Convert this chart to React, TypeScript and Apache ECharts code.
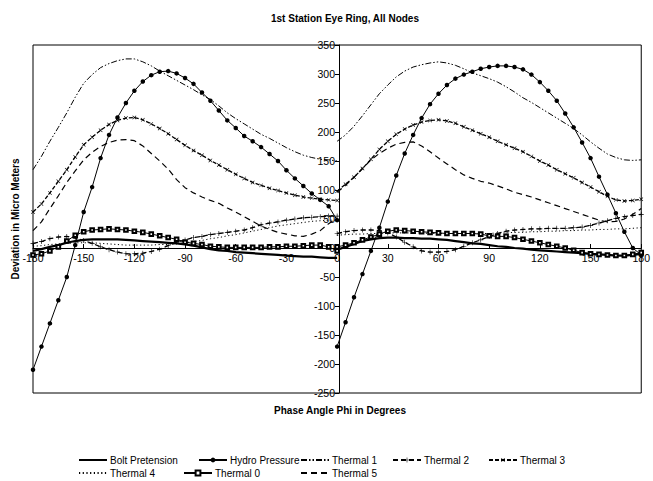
import React, { useEffect, useRef } from "react";
import * as echarts from "echarts";

const ANGLES_L = [-180,-175,-170,-165,-160,-155,-150,-145,-140,-135,-130,-125,-120,-115,-110,-105,-100,-95,-90,-85,-80,-75,-70,-65,-60,-55,-50,-45,-40,-35,-30,-25,-20,-15,-10,-5,0];
const ANGLES_R = [0,5,10,15,20,25,30,35,40,45,50,55,60,65,70,75,80,85,90,95,100,105,110,115,120,125,130,135,140,145,150,155,160,165,170,175,180];

const X_TICKS = [-180, -150, -120, -90, -60, -30, 0, 30, 60, 90, 120, 150, 180];
const Y_TICKS = [-250, -200, -150, -100, -50, 0, 50, 100, 150, 200, 250, 300, 350];

const BOLT_L = [-5,-2,2,5,9,12,14,15,15,15,15,14,13,12,11,10,9,8,6,4,1,-2,-4,-5,-7,-8,-9,-10,-11,-12,-13,-14,-15,-15,-16,-17,-17];
const BOLT_R = [-3,2,7,12,15,17,18,18,17,17,16,16,15,14,12,10,8,7,5,3,2,0,-1,-3,-4,-5,-6,-7,-8,-9,-10,-11,-12,-13,-13,-12,-10];

const HYDRO_L = [-210,-170,-130,-90,-50,5,62,105,155,195,225,250,271,287,298,304,305,301,293,283,268,254,237,220,207,193,184,174,162,150,134,120,107,94,83,72,48];
const HYDRO_R = [-170,-128,-85,-45,-5,35,80,125,163,195,224,248,266,281,292,299,304,309,312,314,314,312,308,299,286,271,254,232,208,182,155,123,92,60,28,0,-12];

const T1_L = [135,158,184,208,233,260,284,299,311,318,323,326,326,321,314,305,297,289,281,273,264,256,245,233,223,214,205,196,189,181,173,166,160,156,153,152,150];
const T1_R = [184,195,210,228,247,266,281,295,305,312,316,319,321,319,315,309,302,297,292,286,278,269,259,251,242,233,224,215,206,195,183,172,162,156,152,151,152];

const T2_L = [8,11,16,19,20,17,13,8,2,-3,-7,-10,-10,-9,-6,-2,4,10,14,18,20,23,25,27,29,31,35,40,43,45,48,50,52,53,54,55,55];
const T2_R = [25,28,30,31,31,30,26,19,10,2,-5,-7,-7,-6,-3,3,9,14,20,25,29,31,32,33,33,34,34,34,35,36,39,43,47,51,54,56,58];

const T3_L = [62,76,95,115,135,157,178,191,203,213,220,224,225,221,214,206,197,187,177,168,160,151,143,135,127,120,113,108,103,99,95,91,88,86,84,83,82];
const T3_R = [98,110,122,137,153,170,184,196,205,212,217,220,221,219,215,209,203,197,191,184,178,172,166,158,150,143,135,128,121,113,105,97,89,83,81,82,84];

const T4_L = [3,4,6,7,8,9,9,9,8,7,6,5,5,5,5,6,6,8,9,11,13,16,18,21,23,26,29,32,35,38,40,42,44,46,47,48,48];
const T4_R = [22,23,24,24,25,25,26,26,26,26,26,25,25,25,25,25,25,25,25,26,26,27,27,28,28,29,29,30,30,31,31,32,32,33,33,34,35];

const T0_L = [-12,-10,-5,2,12,22,28,31,32,33,32,31,29,27,24,21,18,15,10,8,6,3,2,1,1,1,1,1,2,2,3,3,4,5,5,2,-5];
const T0_R = [2,5,9,14,19,24,29,31,30,29,28,27,26,25,25,25,25,24,21,20,20,18,15,12,9,6,3,0,-4,-8,-10,-11,-12,-13,-13,-11,-8];

const T5_L = [30,45,68,90,113,133,152,165,175,182,186,187,185,176,163,150,136,118,104,95,88,82,77,69,62,54,46,38,32,27,24,21,20,24,30,42,52];
const T5_R = [96,108,122,137,152,163,172,179,182,183,176,166,155,145,135,126,120,115,112,107,102,96,92,88,83,78,73,68,63,58,53,48,45,46,50,58,68];

const NARROW = "'Liberation Sans Narrow', 'Arial Narrow', 'Liberation Sans', Arial, sans-serif";
const BOLD = "'Liberation Sans', Arial, sans-serif";

const PLUS = "path://M0,4.4H10V5.6H0Z M4.4,0H5.6V10H4.4Z";

function pairs(xs: number[], ys: number[]) {
  return xs.map((x, i) => [x, ys[i]]);
}

type Spec = {
  name: string;
  left: number[];
  right: number[];
  line: any;
  symbol?: string;
  symbolSize?: number;
  symbolRotate?: number;
};

const SPECS: Spec[] = [
  { name: "Bolt Pretension", left: BOLT_L, right: BOLT_R, line: { width: 2.2, type: "solid" } },
  { name: "Hydro Pressure", left: HYDRO_L, right: HYDRO_R, line: { width: 1, type: "solid" }, symbol: "circle", symbolSize: 4.5 },
  { name: "Thermal 1", left: T1_L, right: T1_R, line: { width: 1, type: [6, 2, 1.5, 2, 1.5, 2] } },
  { name: "Thermal 2", left: T2_L, right: T2_R, line: { width: 1.3, type: [5, 3] }, symbol: PLUS, symbolSize: 5 },
  { name: "Thermal 3", left: T3_L, right: T3_R, line: { width: 1.3, type: [4, 2] }, symbol: PLUS, symbolSize: 5, symbolRotate: 45 },
  { name: "Thermal 4", left: T4_L, right: T4_R, line: { width: 1, type: [1.2, 2.5] } },
  { name: "Thermal 0", left: T0_L, right: T0_R, line: { width: 1, type: "solid" }, symbol: "emptyRect", symbolSize: 3.6 },
  { name: "Thermal 5", left: T5_L, right: T5_R, line: { width: 1.2, type: [6, 4] } },
];

const LEGEND_POS: { name: string; left: number; top: number }[] = [
  { name: "Bolt Pretension", left: 78, top: 455 },
  { name: "Hydro Pressure", left: 198, top: 455 },
  { name: "Thermal 1", left: 300, top: 455 },
  { name: "Thermal 2", left: 392, top: 455 },
  { name: "Thermal 3", left: 488, top: 455 },
  { name: "Thermal 4", left: 78, top: 468 },
  { name: "Thermal 0", left: 183, top: 468 },
  { name: "Thermal 5", left: 300, top: 468 },
];

// grid geometry
const G_LEFT = 33;
const G_RIGHT = 8;
const G_TOP = 45;
const G_BOTTOM = 88;
const W = 653;
const H = 481;

export default function App() {
  const ref = useRef<HTMLDivElement>(null);
  useEffect(() => {
    if (!ref.current) return;
    const chart = echarts.init(ref.current, undefined, { renderer: "svg" });
    const series: any[] = [];
    SPECS.forEach((s) => {
      [pairs(ANGLES_L, s.left), pairs(ANGLES_R, s.right)].forEach((data) => {
        series.push({
          type: "line",
          name: s.name,
          data,
          smooth: false,
          showSymbol: !!s.symbol,
          showAllSymbol: true,
          symbol: s.symbol || "none",
          symbolSize: s.symbolSize || 4,
          symbolRotate: s.symbolRotate || 0,
          lineStyle: { color: "#000", ...s.line },
          itemStyle: { color: "#000", borderColor: "#000", borderWidth: s.symbol === "emptyRect" ? 0.7 : 0 },
          emphasis: { disabled: true },
        });
      });
    });

    const noSymbol = new Set(SPECS.filter((s) => !s.symbol).map((s) => s.name));
    const legends = LEGEND_POS.map((l) => ({
      data: [noSymbol.has(l.name) ? { name: l.name, itemStyle: { opacity: 0 } } : { name: l.name }],
      left: l.left,
      top: l.top,
      itemWidth: 28,
      itemHeight: 6,
      itemGap: 0,
      padding: 0,
      selectedMode: false,
      textStyle: { fontFamily: NARROW, fontSize: 10, color: "#000", padding: [0, 0, 0, -2] },
    }));

    const plotW = W - G_LEFT - G_RIGHT;
    const plotH = H - G_TOP - G_BOTTOM;
    const zeroY = G_TOP + (350 / 600) * plotH;
    const xOffset = -(G_TOP + plotH - zeroY);
    const yOffset = -(plotW / 2);

    chart.setOption({
      animation: false,
      backgroundColor: "#fff",
      title: {
        text: "1st Station Eye Ring, All Nodes",
        left: 340,
        top: 8,
        textAlign: "center",
        textStyle: { fontFamily: BOLD, fontSize: 10, fontWeight: "bold", color: "#000" },
      },
      legend: legends,
      grid: {
        left: G_LEFT,
        right: G_RIGHT,
        top: G_TOP,
        bottom: G_BOTTOM,
        show: true,
        borderColor: "#000",
        borderWidth: 1,
        backgroundColor: "transparent",
      },
      xAxis: {
        type: "value",
        min: -180,
        max: 180,
        interval: 30,
        position: "bottom",
        offset: xOffset,
        axisLine: { onZero: false, lineStyle: { color: "#000", width: 1 } },
        axisTick: { show: true, inside: true, length: 4, lineStyle: { color: "#000" } },
        axisLabel: {
          color: "#000",
          fontFamily: NARROW,
          fontSize: 10.5,
          margin: 4,
          showMinLabel: true,
          showMaxLabel: true,
          customValues: X_TICKS,
        },
        splitLine: { show: false },
      },
      yAxis: {
        type: "value",
        min: -250,
        max: 350,
        interval: 50,
        position: "left",
        offset: yOffset,
        axisLine: { onZero: false, lineStyle: { color: "#000", width: 1 } },
        axisTick: { show: true, length: 4, lineStyle: { color: "#000" } },
        axisLabel: {
          color: "#000",
          fontFamily: NARROW,
          fontSize: 10.5,
          margin: 4,
          showMinLabel: true,
          showMaxLabel: true,
          customValues: Y_TICKS,
        },
        splitLine: { show: false },
      },
      graphic: [
        {
          type: "text",
          x: 15,
          y: 219,
          rotation: Math.PI / 2,
          style: {
            text: "Deviation in Micro Meters",
            fontFamily: BOLD,
            fontSize: 10,
            fontWeight: "bold",
            fill: "#000",
            align: "center",
            verticalAlign: "middle",
          },
        },
        {
          type: "text",
          x: 340,
          y: 410,
          style: {
            text: "Phase Angle Phi in Degrees",
            fontFamily: BOLD,
            fontSize: 10,
            fontWeight: "bold",
            fill: "#000",
            align: "center",
            verticalAlign: "middle",
          },
        },
      ],
      series,
    });
    return () => chart.dispose();
  }, []);
  return (
    <div
      ref={ref}
      style={{ position: "absolute", left: 0, top: 0, width: W, height: H, background: "#fff" }}
    />
  );
}
